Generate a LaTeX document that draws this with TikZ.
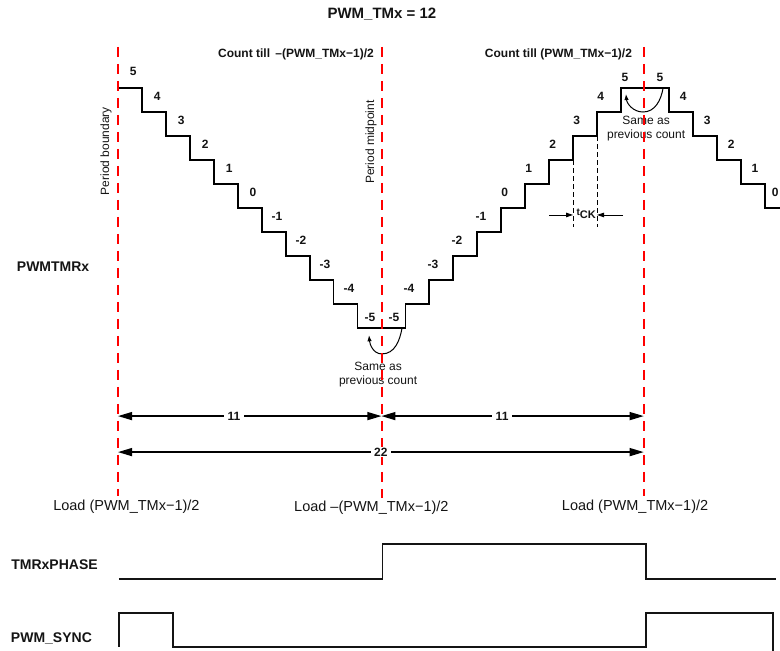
\documentclass[tikz,border=0pt]{standalone}
\usepackage{fontspec}
\setmainfont{Liberation Sans}
\usetikzlibrary{arrows.meta,calc}
\definecolor{boundred}{HTML}{FF0000}
\definecolor{inkdark}{HTML}{141414}
\tikzset{>=Latex,line width=.8pt,
  every node/.style={font=\fontsize{12}{14}\selectfont,text=inkdark},
  boundary/.style={draw=boundred,line width=1.6pt,dash pattern=on 10.5pt off 6.5pt},
  stair/.style={draw=black,line width=1.8pt},
  span/.style={{Triangle[length=14pt,width=8pt]}-{Triangle[length=14pt,width=8pt]},line width=1.4pt},
  spanlbl/.style={fill=white,inner xsep=4pt,inner ysep=1pt,font=\fontsize{12}{12}\selectfont\bfseries},
  num/.style={inner sep=0pt,font=\fontsize{12}{12}\selectfont\bfseries},
  counttxt/.style={inner sep=0pt,font=\fontsize{12}{12}\selectfont\bfseries},
  note/.style={inner sep=0pt,align=center,font=\fontsize{12}{14}\selectfont},
  loadtxt/.style={inner sep=0pt,font=\fontsize{14.5}{14.5}\selectfont},
  siglbl/.style={inner sep=0pt,font=\fontsize{14}{14}\selectfont\bfseries},
  sig/.style={draw=inkdark,line width=1.3pt},
  guide/.style={draw=black,line width=.9pt,dash pattern=on 5pt off 3pt},
  ckarrow/.style={-{Triangle[length=7pt,width=4.5pt]},line width=.9pt},
  repeatarc/.style={-{Latex[length=6pt,width=4.5pt]},line width=1pt}}

\begin{document}
\begin{tikzpicture}[x=23.95pt,y=24pt]
\useasboundingbox (-4.927,8.667) rectangle (27.641,-18.417);
\node[font=\fontsize{15}{15}\selectfont\bfseries,inner sep=0pt] (title) at (11.02,8.08) {PWM\_TMx = 12};
\node[counttxt] (cdown) at (7.43,6.42) {Count till \,–(PWM\_TMx−1)/2};
\node[counttxt] (cup) at (18.39,6.42) {Count till (PWM\_TMx−1)/2};
\node[note,rotate=90] (pbnd) at (-0.5,2.375) {Period boundary};
\node[note,rotate=90] (pmid) at (10.56,2.75) {Period midpoint};
% counter staircase
\draw[stair] (0,5) \foreach \k in {1,...,10}{ -- ++(1,0) -- ++(0,-1)} -- ++(2,0)
  \foreach \k in {1,...,9}{ -- ++(0,1) -- ++(1,0)} -- ++(0,1) -- ++(2,0)
  \foreach \k in {1,...,5}{ -- ++(0,-1) -- ++(1,0)};
\foreach \k in {5,4,...,-4}{\pgfmathtruncatemacro\s{5-\k}
  \node[num] (fall\s) at (\s+.64,\k+.67) {\k};}
\foreach \k in {-4,...,4}{\pgfmathtruncatemacro\s{16+\k}
  \node[num] (rise\s) at (\s+.15,\k+.67) {\k};}
\foreach \k in {4,...,1}{\pgfmathtruncatemacro\s{27-\k}
  \node[num] (fall\s) at (\s+.6,\k+.67) {\k};}
\node[num] (fall27) at (27.44,.67) {0};
\node[num] (lowa) at (10.52,-4.54) {-5};\node[num] (lowb) at (11.52,-4.54) {-5};
\node[num] (topa) at (21.17,5.46) {5};\node[num] (topb) at (22.63,5.46) {5};
% repeated counts
\draw[repeatarc] (11.86,-5) to[out=-100,in=0] (11.02,-6.08) to[out=180,in=-85] (10.48,-5.3);
\node[note] (samelow) at (10.86,-6.96) {Same as\\previous count};
\draw[repeatarc] (22.76,5) to[out=-100,in=0] (21.92,4) to[out=180,in=-85] (21.21,4.75);
\node[note] (sametop) at (22.05,3.29) {Same as\\previous count};
% clock period
\draw[guide] (19,2) coordinate (ck-a) -- (19,-0.79);\draw[guide] (20,3) coordinate (ck-b) -- (20,-0.79);
\path (18,-0.29) coordinate (ckl0) (19,-0.29) coordinate (ckl) (21.09,-0.29) coordinate (ckr0) (20,-0.29) coordinate (ckr);
\draw[ckarrow] (ckl0) -- (ckl);\draw[ckarrow] (ckr0) -- (ckr);
\node[inner sep=0pt,font=\bfseries] (tck) at (19.55,-0.25) {\fontsize{10}{10}\selectfont t\raisebox{-3.5pt}{\fontsize{11}{11}\selectfont CK}};
% period boundaries
\draw[boundary] (0,6.71) coordinate (pb-top) -- (0,-12) coordinate (pb-bot);
\draw[boundary] (11.02,6.71) coordinate (pm-top) -- (11.02,-12.1) coordinate (pm-bot);
\draw[boundary] (21.95,6.71) coordinate (pe-top) -- (21.95,-12) coordinate (pe-bot);
% counts per half period
\path (0,-8.67) coordinate (h0) (11,-8.67) coordinate (h1) (21.95,-8.67) coordinate (h2)
  (0,-10.17) coordinate (w0) (21.95,-10.17) coordinate (w1);
\draw[span] (h0) -- node[spanlbl,pos=.44] (halfa) {11} (h1);
\draw[span] (h1) -- node[spanlbl,pos=.46] (halfb) {11} (h2);
\draw[span] (w0) -- node[spanlbl,inner xsep=3pt] (whole) {22} (w1);
\node[loadtxt] (loada) at (0.35,-12.46) {Load (PWM\_TMx−1)/2};
\node[loadtxt] (loadb) at (10.58,-12.5) {Load –(PWM\_TMx−1)/2};
\node[loadtxt] (loadc) at (21.59,-12.46) {Load (PWM\_TMx−1)/2};
% signals
\node[siglbl] (tmr) at (-2.71,-2.46) {PWMTMRx};
\node[siglbl] (phase) at (-2.65,-14.875) {TMRxPHASE};
\node[siglbl] (sync) at (-2.78,-17.92) {PWM\_SYNC};
\draw[sig] (0.04,-15.46) -- (11.04,-15.46) -- (11.04,-14) -- (22.05,-14) -- (22.05,-15.46) -- (27.47,-15.46);
\draw[sig] (0.04,-18.29) -- (0.04,-16.875) -- (2.3,-16.875) -- (2.3,-18.29) -- (22.05,-18.29)
  -- (22.05,-16.875) -- (27.35,-16.875) -- (27.35,-18.5);
\end{tikzpicture}
\end{document}
